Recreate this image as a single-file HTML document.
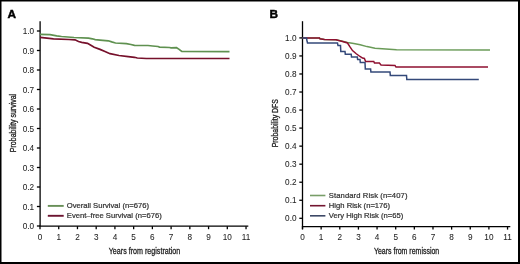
<!DOCTYPE html>
<html><head><meta charset="utf-8"><style>
html,body{margin:0;padding:0;background:#fff;}
body{width:520px;height:264px;overflow:hidden;}
svg{display:block;will-change:transform;font-family:"Liberation Sans", sans-serif;}
text{stroke:#333;stroke-width:0.22px;}
text.k{stroke:#333;stroke-width:0.06px;}
text.t{stroke:#222;stroke-width:0.3px;}
text.p{stroke:#000;stroke-width:0.45px;}
</style></head><body>
<svg width="520" height="264" viewBox="0 0 520 264">
<rect x="0" y="0" width="520" height="264" fill="#fff"/>
<rect x="0.75" y="0.75" width="518" height="262" fill="none" stroke="#000" stroke-width="1.5"/>
<rect x="518" y="0" width="2" height="264" fill="#000"/>
<rect x="0" y="262" width="520" height="2" fill="#000"/>
<text class="p" x="7.4" y="17.8" font-size="11.8" font-weight="bold" fill="#000">A</text>
<text class="p" x="269.6" y="17.9" font-size="11.8" font-weight="bold" fill="#000">B</text>
<line x1="40.10" y1="21.20" x2="40.10" y2="226.20" stroke="#000" stroke-width="1.3"/>
<line x1="39.50" y1="226.20" x2="248.30" y2="226.20" stroke="#000" stroke-width="1.3"/>
<line x1="36.90" y1="226.00" x2="40.10" y2="226.00" stroke="#000" stroke-width="1.3"/>
<text class="k" x="34.10" y="229.00" font-size="8.2" fill="#222" text-anchor="end">0.0</text>
<line x1="36.90" y1="206.50" x2="40.10" y2="206.50" stroke="#000" stroke-width="1.3"/>
<text class="k" x="34.10" y="209.50" font-size="8.2" fill="#222" text-anchor="end">0.1</text>
<line x1="36.90" y1="187.00" x2="40.10" y2="187.00" stroke="#000" stroke-width="1.3"/>
<text class="k" x="34.10" y="190.00" font-size="8.2" fill="#222" text-anchor="end">0.2</text>
<line x1="36.90" y1="167.50" x2="40.10" y2="167.50" stroke="#000" stroke-width="1.3"/>
<text class="k" x="34.10" y="170.50" font-size="8.2" fill="#222" text-anchor="end">0.3</text>
<line x1="36.90" y1="148.00" x2="40.10" y2="148.00" stroke="#000" stroke-width="1.3"/>
<text class="k" x="34.10" y="151.00" font-size="8.2" fill="#222" text-anchor="end">0.4</text>
<line x1="36.90" y1="128.50" x2="40.10" y2="128.50" stroke="#000" stroke-width="1.3"/>
<text class="k" x="34.10" y="131.50" font-size="8.2" fill="#222" text-anchor="end">0.5</text>
<line x1="36.90" y1="109.00" x2="40.10" y2="109.00" stroke="#000" stroke-width="1.3"/>
<text class="k" x="34.10" y="112.00" font-size="8.2" fill="#222" text-anchor="end">0.6</text>
<line x1="36.90" y1="89.50" x2="40.10" y2="89.50" stroke="#000" stroke-width="1.3"/>
<text class="k" x="34.10" y="92.50" font-size="8.2" fill="#222" text-anchor="end">0.7</text>
<line x1="36.90" y1="70.00" x2="40.10" y2="70.00" stroke="#000" stroke-width="1.3"/>
<text class="k" x="34.10" y="73.00" font-size="8.2" fill="#222" text-anchor="end">0.8</text>
<line x1="36.90" y1="50.50" x2="40.10" y2="50.50" stroke="#000" stroke-width="1.3"/>
<text class="k" x="34.10" y="53.50" font-size="8.2" fill="#222" text-anchor="end">0.9</text>
<line x1="36.90" y1="31.00" x2="40.10" y2="31.00" stroke="#000" stroke-width="1.3"/>
<text class="k" x="34.10" y="34.00" font-size="8.2" fill="#222" text-anchor="end">1.0</text>
<line x1="40.00" y1="226.20" x2="40.00" y2="229.20" stroke="#000" stroke-width="1.3"/>
<text class="k" x="40.00" y="239.80" font-size="8.2" fill="#222" text-anchor="middle">0</text>
<line x1="58.73" y1="226.20" x2="58.73" y2="229.20" stroke="#000" stroke-width="1.3"/>
<text class="k" x="58.73" y="239.80" font-size="8.2" fill="#222" text-anchor="middle">1</text>
<line x1="77.46" y1="226.20" x2="77.46" y2="229.20" stroke="#000" stroke-width="1.3"/>
<text class="k" x="77.46" y="239.80" font-size="8.2" fill="#222" text-anchor="middle">2</text>
<line x1="96.19" y1="226.20" x2="96.19" y2="229.20" stroke="#000" stroke-width="1.3"/>
<text class="k" x="96.19" y="239.80" font-size="8.2" fill="#222" text-anchor="middle">3</text>
<line x1="114.92" y1="226.20" x2="114.92" y2="229.20" stroke="#000" stroke-width="1.3"/>
<text class="k" x="114.92" y="239.80" font-size="8.2" fill="#222" text-anchor="middle">4</text>
<line x1="133.65" y1="226.20" x2="133.65" y2="229.20" stroke="#000" stroke-width="1.3"/>
<text class="k" x="133.65" y="239.80" font-size="8.2" fill="#222" text-anchor="middle">5</text>
<line x1="152.38" y1="226.20" x2="152.38" y2="229.20" stroke="#000" stroke-width="1.3"/>
<text class="k" x="152.38" y="239.80" font-size="8.2" fill="#222" text-anchor="middle">6</text>
<line x1="171.11" y1="226.20" x2="171.11" y2="229.20" stroke="#000" stroke-width="1.3"/>
<text class="k" x="171.11" y="239.80" font-size="8.2" fill="#222" text-anchor="middle">7</text>
<line x1="189.84" y1="226.20" x2="189.84" y2="229.20" stroke="#000" stroke-width="1.3"/>
<text class="k" x="189.84" y="239.80" font-size="8.2" fill="#222" text-anchor="middle">8</text>
<line x1="208.57" y1="226.20" x2="208.57" y2="229.20" stroke="#000" stroke-width="1.3"/>
<text class="k" x="208.57" y="239.80" font-size="8.2" fill="#222" text-anchor="middle">9</text>
<line x1="227.30" y1="226.20" x2="227.30" y2="229.20" stroke="#000" stroke-width="1.3"/>
<text class="k" x="227.30" y="239.80" font-size="8.2" fill="#222" text-anchor="middle">10</text>
<line x1="246.03" y1="226.20" x2="246.03" y2="229.20" stroke="#000" stroke-width="1.3"/>
<text class="k" x="246.03" y="239.80" font-size="8.2" fill="#222" text-anchor="middle">11</text>
<text class="t" x="144.50" y="253.8" font-size="9.3" fill="#222" text-anchor="middle" textLength="71.5" lengthAdjust="spacingAndGlyphs">Years from registration</text>
<text class="t" x="0" y="0" transform="translate(16.00,123.00) rotate(-90)" font-size="8.5" fill="#222" text-anchor="middle" textLength="58.3" lengthAdjust="spacingAndGlyphs">Probability survival</text>
<line x1="302.50" y1="21.20" x2="302.50" y2="229.00" stroke="#000" stroke-width="1.3"/>
<line x1="301.90" y1="226.60" x2="510.30" y2="226.60" stroke="#000" stroke-width="1.3"/>
<line x1="299.30" y1="218.30" x2="302.50" y2="218.30" stroke="#000" stroke-width="1.3"/>
<text class="k" x="296.50" y="221.30" font-size="8.2" fill="#222" text-anchor="end">0.0</text>
<line x1="299.30" y1="200.26" x2="302.50" y2="200.26" stroke="#000" stroke-width="1.3"/>
<text class="k" x="296.50" y="203.26" font-size="8.2" fill="#222" text-anchor="end">0.1</text>
<line x1="299.30" y1="182.22" x2="302.50" y2="182.22" stroke="#000" stroke-width="1.3"/>
<text class="k" x="296.50" y="185.22" font-size="8.2" fill="#222" text-anchor="end">0.2</text>
<line x1="299.30" y1="164.18" x2="302.50" y2="164.18" stroke="#000" stroke-width="1.3"/>
<text class="k" x="296.50" y="167.18" font-size="8.2" fill="#222" text-anchor="end">0.3</text>
<line x1="299.30" y1="146.14" x2="302.50" y2="146.14" stroke="#000" stroke-width="1.3"/>
<text class="k" x="296.50" y="149.14" font-size="8.2" fill="#222" text-anchor="end">0.4</text>
<line x1="299.30" y1="128.10" x2="302.50" y2="128.10" stroke="#000" stroke-width="1.3"/>
<text class="k" x="296.50" y="131.10" font-size="8.2" fill="#222" text-anchor="end">0.5</text>
<line x1="299.30" y1="110.06" x2="302.50" y2="110.06" stroke="#000" stroke-width="1.3"/>
<text class="k" x="296.50" y="113.06" font-size="8.2" fill="#222" text-anchor="end">0.6</text>
<line x1="299.30" y1="92.02" x2="302.50" y2="92.02" stroke="#000" stroke-width="1.3"/>
<text class="k" x="296.50" y="95.02" font-size="8.2" fill="#222" text-anchor="end">0.7</text>
<line x1="299.30" y1="73.98" x2="302.50" y2="73.98" stroke="#000" stroke-width="1.3"/>
<text class="k" x="296.50" y="76.98" font-size="8.2" fill="#222" text-anchor="end">0.8</text>
<line x1="299.30" y1="55.94" x2="302.50" y2="55.94" stroke="#000" stroke-width="1.3"/>
<text class="k" x="296.50" y="58.94" font-size="8.2" fill="#222" text-anchor="end">0.9</text>
<line x1="299.30" y1="37.90" x2="302.50" y2="37.90" stroke="#000" stroke-width="1.3"/>
<text class="k" x="296.50" y="40.90" font-size="8.2" fill="#222" text-anchor="end">1.0</text>
<line x1="302.50" y1="226.60" x2="302.50" y2="229.60" stroke="#000" stroke-width="1.3"/>
<text class="k" x="302.50" y="239.80" font-size="8.2" fill="#222" text-anchor="middle">0</text>
<line x1="321.14" y1="226.60" x2="321.14" y2="229.60" stroke="#000" stroke-width="1.3"/>
<text class="k" x="321.14" y="239.80" font-size="8.2" fill="#222" text-anchor="middle">1</text>
<line x1="339.78" y1="226.60" x2="339.78" y2="229.60" stroke="#000" stroke-width="1.3"/>
<text class="k" x="339.78" y="239.80" font-size="8.2" fill="#222" text-anchor="middle">2</text>
<line x1="358.42" y1="226.60" x2="358.42" y2="229.60" stroke="#000" stroke-width="1.3"/>
<text class="k" x="358.42" y="239.80" font-size="8.2" fill="#222" text-anchor="middle">3</text>
<line x1="377.06" y1="226.60" x2="377.06" y2="229.60" stroke="#000" stroke-width="1.3"/>
<text class="k" x="377.06" y="239.80" font-size="8.2" fill="#222" text-anchor="middle">4</text>
<line x1="395.70" y1="226.60" x2="395.70" y2="229.60" stroke="#000" stroke-width="1.3"/>
<text class="k" x="395.70" y="239.80" font-size="8.2" fill="#222" text-anchor="middle">5</text>
<line x1="414.34" y1="226.60" x2="414.34" y2="229.60" stroke="#000" stroke-width="1.3"/>
<text class="k" x="414.34" y="239.80" font-size="8.2" fill="#222" text-anchor="middle">6</text>
<line x1="432.98" y1="226.60" x2="432.98" y2="229.60" stroke="#000" stroke-width="1.3"/>
<text class="k" x="432.98" y="239.80" font-size="8.2" fill="#222" text-anchor="middle">7</text>
<line x1="451.62" y1="226.60" x2="451.62" y2="229.60" stroke="#000" stroke-width="1.3"/>
<text class="k" x="451.62" y="239.80" font-size="8.2" fill="#222" text-anchor="middle">8</text>
<line x1="470.26" y1="226.60" x2="470.26" y2="229.60" stroke="#000" stroke-width="1.3"/>
<text class="k" x="470.26" y="239.80" font-size="8.2" fill="#222" text-anchor="middle">9</text>
<line x1="488.90" y1="226.60" x2="488.90" y2="229.60" stroke="#000" stroke-width="1.3"/>
<text class="k" x="488.90" y="239.80" font-size="8.2" fill="#222" text-anchor="middle">10</text>
<line x1="507.54" y1="226.60" x2="507.54" y2="229.60" stroke="#000" stroke-width="1.3"/>
<text class="k" x="507.54" y="239.80" font-size="8.2" fill="#222" text-anchor="middle">11</text>
<text class="t" x="406.60" y="253.8" font-size="9.3" fill="#222" text-anchor="middle" textLength="65.3" lengthAdjust="spacingAndGlyphs">Years from remission</text>
<text class="t" x="0" y="0" transform="translate(278.40,123.20) rotate(-90)" font-size="8.5" fill="#222" text-anchor="middle" textLength="48.3" lengthAdjust="spacingAndGlyphs">Probability DFS</text>
<polyline points="40.00,37.40 47.00,38.10 53.50,38.80 69.00,39.50 75.00,39.80 78.50,41.50 81.70,42.30 87.50,43.30 90.00,44.80 94.20,47.30 100.00,49.40 105.00,51.50 110.00,53.70 119.00,55.50 128.20,56.60 134.50,57.30 137.30,58.00 146.25,58.50 229.50,58.50" fill="none" stroke="#76102b" stroke-width="1.7" stroke-linejoin="miter"/>
<polyline points="40.00,34.40 50.00,34.60 56.70,35.80 61.50,36.50 74.00,37.50 88.50,38.20 92.30,38.80 95.20,39.60 100.00,40.10 108.30,40.80 111.70,41.90 115.50,43.00 126.40,43.60 130.90,44.50 134.50,45.40 148.00,45.50 152.60,46.00 158.00,46.50 159.50,47.10 169.50,47.50 171.00,47.80 176.50,47.70 178.80,49.10 181.80,51.50 229.50,51.70" fill="none" stroke="#5f9150" stroke-width="1.7" stroke-linejoin="miter"/>
<polyline points="302.50,37.90 319.50,38.00 320.00,38.80 324.50,39.50 336.00,39.75 342.50,41.30 347.50,42.40 353.75,43.60 360.20,44.70 367.00,46.60 375.00,48.20 385.80,49.10 396.50,49.80 490.00,49.90" fill="none" stroke="#6a9b58" stroke-width="1.5"/>
<polyline points="302.50,37.90 319.50,38.00 320.00,38.80 324.50,39.50 336.00,39.75 342.50,41.50 347.50,43.00 350.00,46.90 352.50,50.60 356.25,53.75 360.00,56.50 362.50,58.10 364.40,58.50 365.60,61.50 373.75,61.50 374.50,63.10 379.40,63.10 381.00,65.00 395.00,65.40 396.00,67.10 488.00,67.10" fill="none" stroke="#8e1030" stroke-width="1.5"/>
<polyline points="302.50,37.90 306.50,37.90 306.80,40.00 307.50,43.00 337.50,43.00 338.00,45.60 340.50,45.60 340.80,51.50 345.00,51.50 345.30,54.20 351.20,54.20 351.50,56.90 357.30,56.90 357.60,59.40 360.00,59.40 360.30,62.50 365.00,62.50 365.30,69.00 370.60,69.00 370.90,71.90 390.00,71.90 390.30,75.40 406.50,75.40 406.80,79.60 478.80,79.60" fill="none" stroke="#34497a" stroke-width="1.5"/>
<line x1="47.80" y1="205.90" x2="63.70" y2="205.90" stroke="#688f58" stroke-width="1.90"/>
<text x="66.80" y="207.90" font-size="7.65" fill="#333" letter-spacing="0.00">Overall Survival (n=676)</text>
<line x1="47.80" y1="215.80" x2="63.70" y2="215.80" stroke="#6c1430" stroke-width="1.90"/>
<text x="66.80" y="217.80" font-size="7.65" fill="#333" letter-spacing="0.00">Event–free Survival (n=676)</text>
<line x1="310.00" y1="195.50" x2="325.40" y2="195.50" stroke="#789e68" stroke-width="1.60"/>
<text x="328.80" y="198.10" font-size="7.65" fill="#333" letter-spacing="0.10">Standard Risk (n=407)</text>
<line x1="310.00" y1="205.70" x2="325.40" y2="205.70" stroke="#731530" stroke-width="1.60"/>
<text x="328.80" y="208.30" font-size="7.65" fill="#333" letter-spacing="0.00">High Risk (n=176)</text>
<line x1="310.00" y1="215.80" x2="325.40" y2="215.80" stroke="#3d4866" stroke-width="1.60"/>
<text x="328.80" y="218.40" font-size="7.65" fill="#333" letter-spacing="0.00">Very High Risk (n=65)</text>
</svg>
</body></html>
